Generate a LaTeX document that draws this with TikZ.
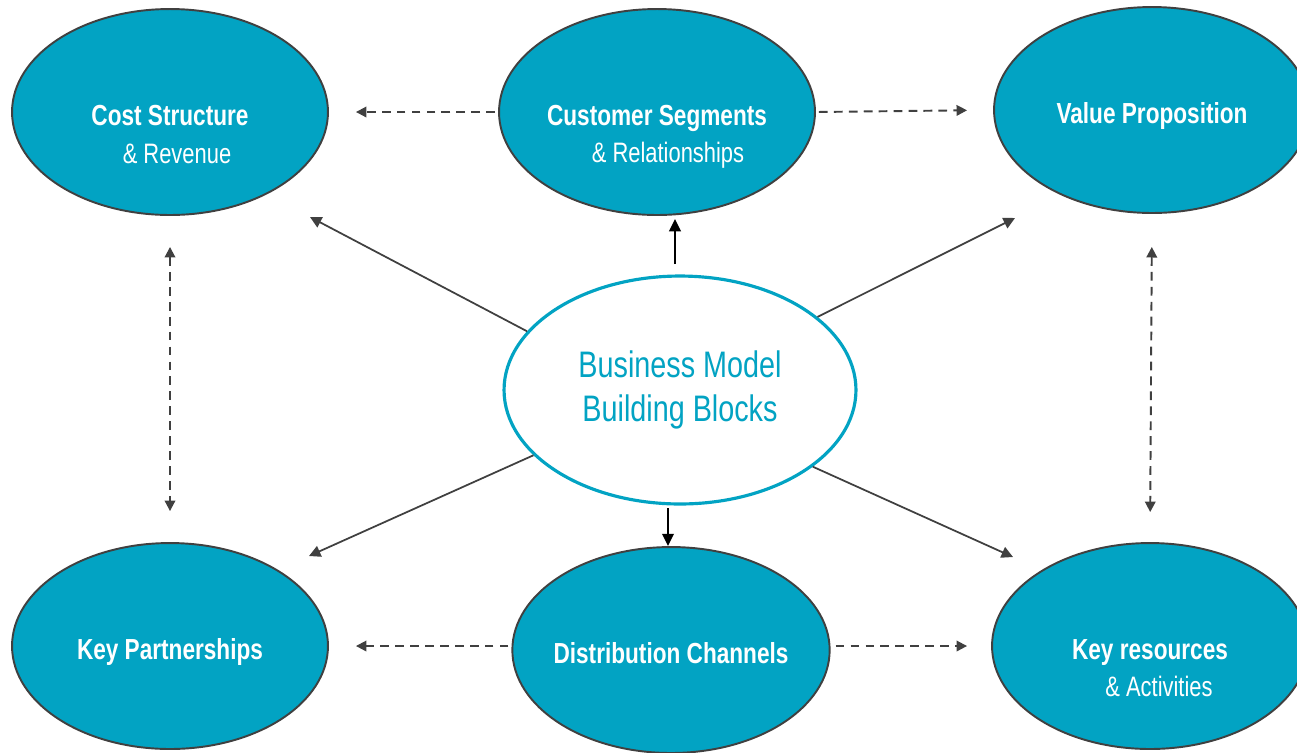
\documentclass[tikz,border=0pt]{standalone}
\usepackage{fontspec}
\setmainfont[FakeStretch=0.78]{Liberation Sans}
\usetikzlibrary{shapes.geometric,arrows.meta}
\definecolor{blockTeal}{HTML}{02A3C3}
\definecolor{blockEdge}{HTML}{404040}

\begin{document}
\begin{tikzpicture}[x=0.02cm, y=-0.02cm,
    block/.style={ellipse, draw=blockEdge, line width=1.1pt, fill=blockTeal, text=white,
        font=\fontsize{16.5}{20}\selectfont\bfseries, minimum width=6.32cm, minimum height=4.12cm,
        inner xsep=-3pt, inner ysep=1pt, text height=15.5pt, text depth=0pt},
    blockSub/.style={text=white, font=\fontsize{16}{20}\selectfont, inner sep=0pt},
    core/.style={ellipse, draw=blockTeal, line width=1.8pt, fill=white, text=blockTeal, align=center,
        font=\fontsize{21}{25.5}\selectfont, minimum width=7.04cm, minimum height=4.56cm},
    link/.style={draw=blockEdge, line width=1pt, -{Triangle[length=6.5pt,width=6.5pt]}},
    push/.style={draw=black, line width=1.4pt, -{Triangle[length=7pt,width=6.5pt]}},
    dashlink/.style={draw=blockEdge, line width=1.1pt, dash pattern=on 5pt off 3.5pt, -{Triangle[length=6pt,width=6pt]}},
  ]
  \useasboundingbox (0,0) rectangle (1297,752);

  % building blocks
  \node[block, label={[blockSub, xshift=0.14cm, yshift=-0.84cm]center:\& Revenue}] (cost) at (170,112) {Cost Structure};
  \node[block, label={[blockSub, xshift=0.22cm, yshift=-0.86cm]center:\& Relationships}] (cs) at (657,112) {Customer Segments};
  \node[block] (vp) at (1152,110) {Value Proposition};
  \node[block] (kp) at (170,646) {Key Partnerships};
  \node[block] (dc) at (671,650) {Distribution Channels};
  \node[block, label={[blockSub, xshift=0.18cm, yshift=-0.80cm]center:\& Activities}] (kr) at (1150,646) {Key resources};

  \node[core] (bmb) at (680,390) {Business Model\\ Building Blocks};

  % arrow ends
  \coordinate (ulTip) at (310,217);
  \coordinate (urTip) at (1015,218);
  \coordinate (llTip) at (309,556);
  \coordinate (lrTip) at (1013,557);
  \coordinate (upFoot) at (675,264);
  \coordinate (dnFoot) at (668,508);

  \draw[link] (bmb.159) -- (ulTip);
  \draw[link] (bmb.28) -- (urTip);
  \draw[link] (bmb.204.5) -- (llTip);
  \draw[link] (bmb.330) -- (lrTip);

  \draw[push, shorten >=0.06cm] (upFoot) -- (upFoot |- cs.south);
  \draw[push] (dnFoot) -- (dnFoot |- dc.north);

  \draw[dashlink, shorten <=0.06cm, shorten >=0.54cm] (cs.west) -- (cost.east);
  \draw[dashlink, shorten <=0.06cm, shorten >=0.52cm] (cs.east) -- (vp.west);
  \draw[dashlink, shorten <=0.06cm, shorten >=0.54cm] (dc.west |- kp.east) -- (kp.east);
  \draw[dashlink, shorten <=0.10cm, shorten >=0.48cm] (dc.east |- kr.west) -- (kr.west);

  \draw[dashlink, {Triangle[length=6pt,width=6pt]}-{Triangle[length=6pt,width=6pt]}, shorten <=0.62cm, shorten >=0.62cm] (cost.south) -- (kp.north);
  \draw[dashlink, {Triangle[length=6pt,width=6pt]}-{Triangle[length=6pt,width=6pt]}, shorten <=0.66cm, shorten >=0.60cm] (vp.south) -- (kr.north);
\end{tikzpicture}
\end{document}
